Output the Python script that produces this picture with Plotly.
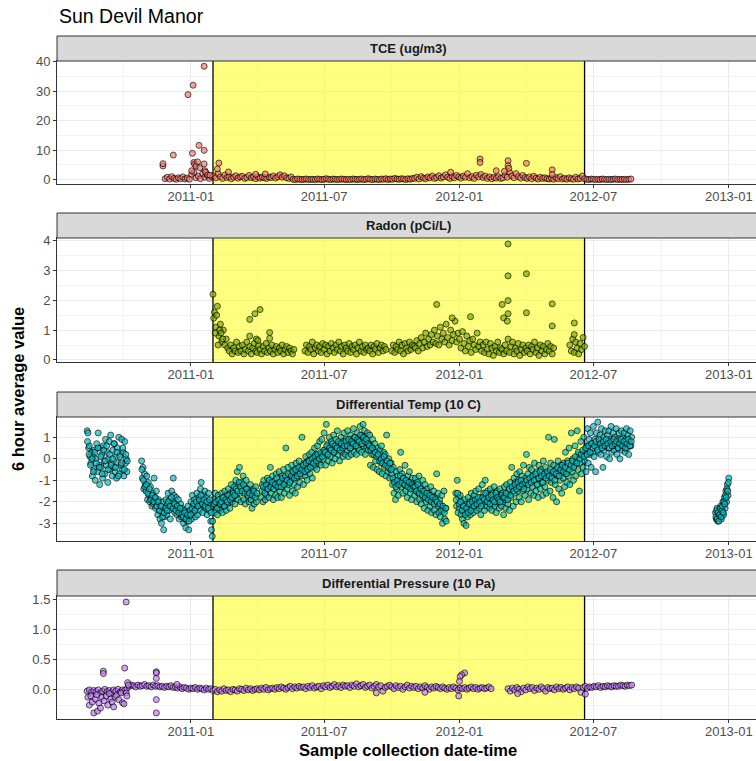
import pandas as pd
import plotly.graph_objects as go

chart_title = "Sun Devil Manor"
panel_names = ["TCE (ug/m3)", "Radon (pCi/L)", "Differential Temp (10 C)", "Differential Pressure (10 Pa)"]
panel_colors = ["#F8766D", "#7CAE00", "#00BFC4", "#C77CFF"]
mitigation_start = "2011-01-31"
mitigation_end = "2012-06-19"
x_title = "Sample collection date-time"
y_title = "6 hour average value"

# ---------------- TCE (3-day sampling from 2010-11-24) ----------------
tce_start = "2010-11-24"
tce_values = [4.6, 0.3, 0.8, 0.2, 1.0, 0.4, 0.1, 0.6, 0.3, 0.9, 0.2, 0.5, 0.1, 1.8, 2.5, 0.6, 1.2, 0.3, 2.0, 0.8, 1.5, 0.4, 1.0,
              1.2, 0.6, 2.0, 0.9, 0.4, 1.5, 0.7, 1.0, 0.3, 0.8, 1.3, 0.5, 0.9, 1.1, 0.4, 0.7, 1.4, 0.6, 0.9, 0.3, 1.0, 0.5, 0.8, 0.6, 0.4, 0.9, 0.7, 1.2, 0.5, 1.0, 1.6, 0.8, 1.3, 0.6, 0.4, 0.9,
              0.1, 0.0, 0.2, 0.1, 0.0, 0.1, 0.2, 0.0, 0.1, 0.1, 0.0, 0.2, 0.1, 0.0, 0.1, 0.3, 0.1, 0.0, 0.2, 0.1,
              0.0, 0.1, 0.2, 0.1, 0.0, 0.1, 0.0, 0.2, 0.1, 0.0, 0.1, 0.2, 0.0, 0.1, 0.3, 0.1, 0.0, 0.2, 0.1, 0.0,
              0.2, 0.1, 0.3, 0.0, 0.2, 0.1, 0.4, 0.2, 0.1, 0.3, 0.2, 0.0, 0.3, 0.1, 0.4,
              0.4, 0.8, 0.2, 1.0, 0.5, 0.3, 0.9, 0.6, 1.2, 0.4,
              0.7, 1.3, 0.5, 0.9, 1.6, 0.8, 0.4, 1.1, 0.6, 1.4, 0.9,
              0.5, 1.2, 0.8, 2.0, 0.6, 1.0, 0.4, 1.5, 0.9, 1.7,
              0.7, 1.2, 0.4, 0.9, 0.3, 0.8, 0.5, 1.0, 0.4, 0.6,
              1.5, 0.8, 2.5, 1.2, 0.6, 2.0, 1.0, 0.5, 1.4, 0.7,
              0.4, 0.9, 0.3, 1.1, 0.5, 0.2, 0.8, 0.4, 0.6, 0.3,
              0.2, 0.5, 0.1, 0.7, 0.3, 1.0, 0.2, 0.4, 0.1, 0.6,
              0.3, 0.1, 0.8, 0.2, 0.4, 1.2, 0.3,
              0.1, 0.0, 0.2, 0.1, 0.0, 0.1, 0.0, 0.2, 0.1, 0.0, 0.1, 0.0, 0.1, 0.2, 0.0, 0.1, 0.0, 0.1, 0.0, 0.1, 0.2]
tce_extra_dates = ["2010-11-24", "2010-12-08", "2010-12-28", "2011-01-04", "2011-01-19", "2011-01-12", "2011-01-19",
                   "2011-01-03", "2011-01-05", "2011-01-06", "2011-01-08", "2011-01-10", "2011-01-02", "2011-01-13",
                   "2011-01-19", "2011-01-20", "2011-01-21", "2011-01-24", "2011-01-27", "2011-02-06", "2011-02-08",
                   "2011-02-21", "2011-03-30", "2011-04-12", "2012-01-29", "2012-01-29", "2012-03-07", "2012-03-07",
                   "2012-03-08", "2012-02-20", "2012-04-01", "2012-05-06", "2012-05-06", "2011-12-20", "2012-03-02"]
tce_extra_values = [5.4, 8.3, 28.8, 32.0, 38.4, 11.6, 9.9, 8.9, 5.8, 5.2, 4.6, 6.0, 3.0, 4.0, 5.3, 3.0, 2.5, 1.6, 1.5,
                    3.6, 5.6, 2.6, 1.8, 1.9, 7.0, 5.8, 6.4, 4.7, 3.8, 3.0, 5.5, 3.3, 1.7, 2.5, 2.8]

# ---------------- Radon (2-day sampling, segments) ----------------
radon_a_start = "2011-01-31"
radon_a = [2.2, 1.6, 1.1, 1.8, 0.8, 1.2, 0.6, 1.0, 0.5, 0.7, 0.4, 0.3, 0.5, 0.2, 0.4,
           0.3, 0.6, 0.25, 0.45, 0.3, 0.5, 0.2, 0.35, 0.6, 0.3, 0.45, 0.2, 0.4, 0.55, 0.3,
           0.25, 0.5, 0.35, 0.2, 0.45, 0.3, 0.55, 0.25, 0.4, 0.3, 0.5, 0.2, 0.35, 0.45, 0.25,
           0.4, 0.3, 0.5, 0.2, 0.35, 0.45, 0.25, 0.4, 0.3, 0.2, 0.35]
radon_b_start = "2011-06-05"
radon_b = [0.3, 0.5, 0.25, 0.45, 0.35, 0.6, 0.2, 0.4, 0.5, 0.3, 0.45, 0.25, 0.55,
           0.35, 0.5, 0.2, 0.45, 0.3, 0.55, 0.4, 0.25, 0.5, 0.35, 0.6, 0.3, 0.45, 0.2, 0.5, 0.4,
           0.3, 0.55, 0.25, 0.45, 0.35, 0.5, 0.2, 0.4, 0.6, 0.3, 0.45, 0.25, 0.5, 0.35, 0.4,
           0.3, 0.5, 0.2, 0.45, 0.35, 0.55, 0.25, 0.4, 0.5, 0.3, 0.45, 0.35]
radon_c_start = "2011-10-01"
radon_c = [0.3, 0.5, 0.25, 0.45, 0.35, 0.6, 0.3, 0.5, 0.2, 0.55, 0.4, 0.3, 0.6, 0.35, 0.5, 0.45,
           0.4, 0.65, 0.3, 0.55, 0.75, 0.4, 0.6, 0.9, 0.45, 0.7, 0.5, 0.85, 0.6, 1.0, 0.55,
           0.8, 0.5, 1.1, 0.7, 0.9, 0.6, 1.2, 0.75, 0.5, 1.0, 0.65, 0.85, 1.3, 0.6, 0.9,
           0.7, 0.4, 0.95, 0.55, 0.3, 0.8, 0.45, 0.65, 0.25, 0.7, 0.5, 0.35, 0.9, 0.45, 0.6, 0.3,
           0.5, 0.25, 0.6, 0.35, 0.2, 0.55, 0.4, 0.15, 0.45, 0.3, 0.6, 0.25, 0.4, 0.35,
           0.2, 0.5, 0.3, 0.7, 0.25, 0.45, 0.6, 0.2, 0.4, 0.3, 0.55, 0.15, 0.35, 0.5, 0.25, 0.4,
           0.3, 0.5, 0.2, 0.45, 0.35, 0.6, 0.25, 0.4, 0.15, 0.5, 0.3, 0.45, 0.2, 0.35, 0.55,
           0.3, 0.45, 0.2, 0.4]
radon_d_start = "2012-05-30"
radon_d = [0.5, 0.3, 0.7, 0.25, 0.6, 0.4, 0.2, 0.55, 0.35, 0.75, 0.45]
radon_extra_dates = ["2011-02-01", "2011-02-03", "2011-02-05", "2011-02-07", "2011-02-09", "2011-02-11", "2011-02-13",
                     "2011-03-22", "2011-03-29", "2011-04-05", "2011-03-22", "2011-04-18", "2011-04-18", "2011-03-31",
                     "2011-04-02", "2011-12-01", "2011-12-22", "2012-01-16", "2012-02-28", "2012-03-07", "2012-03-07",
                     "2012-03-07", "2012-03-01", "2012-03-07", "2012-03-06", "2012-04-01", "2012-04-01", "2012-05-06",
                     "2012-05-06", "2012-06-05", "2012-06-05"]
radon_extra_values = [1.4, 0.9, 1.5, 0.5, 1.0, 0.9, 0.7, 1.36, 1.55, 1.69, 0.8, 0.92, 0.72, 0.7, 0.65,
                      1.86, 1.41, 1.45, 1.86, 3.89, 2.82, 1.99, 1.41, 1.55, 1.3, 2.89, 1.58, 1.88, 1.14, 1.24, 0.85]

# ---------------- Differential temperature (daily readings, segments) ----------------
temp_a_start = "2010-08-13"
temp_a = [1.3, 1.2, 0.5, 0.6, 0.1,
          -0.2, 0.3, -0.8, 0.1, -0.5, 0.4, -1.0, 0.0, 0.7, -0.6, 1.2, -0.3, -1.2, 0.5,
          -0.4, 0.2, -0.9, 0.6, -0.1, -0.7, 0.9, -0.3, 0.3, -1.1, 0.0, 0.8, -0.5, 1.1, -0.2,
          -0.8, 0.4, -0.4, 0.7, -0.6, 0.1, -0.9, 0.5, -0.2, 1.0, -0.7, 0.2, -0.3, 0.9, -0.5,
          0.3, -0.8, 0.8, -0.2, 0.0, -0.6]
temp_b_start = "2010-10-26"
temp_b = [-0.1, -0.9, -0.4, -1.4, -0.7, -1.2,
          -1.5, -0.8, -1.9, -1.1, -1.7, -2.0, -1.3, -1.8, -2.2, -1.6,
          -2.1, -0.9, -1.8, -2.3, -1.5, -2.0, -2.6, -1.9, -2.4, -2.8,
          -2.2, -3.0, -2.5, -2.0, -3.3, -2.7, -2.3, -1.9, -2.6, -2.1,
          -1.6, -2.4, -1.9, -2.8, -2.2, -1.5, -2.0, -0.9, -1.7, -2.5,
          -2.1, -1.8, -2.6, -2.3, -1.9, -2.8, -2.4, -2.1, -2.7, -2.3,
          -2.6, -3.0, -2.4, -2.8, -3.2, -2.5, -2.9, -2.2, -3.3, -2.7, -2.4,
          -2.0, -2.8, -1.7, -2.5, -2.2, -1.9, -2.7, -2.3, -1.6, -2.6,
          -2.1, -1.8, -2.4, -1.4, -1.1, -2.0, -2.5, -1.7, -2.2, -1.5,
          -2.3, -1.8, -2.6, -2.0, -1.6, -2.4, -2.1, -2.9, -3.3, -3.6, -2.2,
          -1.9, -2.5, -1.6, -2.2, -2.0, -2.6, -1.7, -2.3, -1.9, -2.4,
          -2.1, -1.6, -2.5, -1.8, -2.2, -1.5, -2.0, -2.4, -1.7, -2.1,
          -1.4, -1.9, -2.3, -1.6, -1.2, -2.0, -1.5, -1.8,
          -1.3, -2.1, -1.0, -1.7, -0.6, -1.9, -1.2, -0.4, -1.6, -2.0,
          -1.1, -1.5, -0.8, -1.9, -1.3, -2.1, -1.0, -1.6, -1.4, -1.8,
          -2.0, -1.5, -1.2, -1.9, -2.3, -1.6, -1.4, -2.1, -1.7, -1.3, -2.0]
temp_c_start = "2011-04-07"
temp_c = [-1.8, -1.2, -2.0, -1.0, -1.5, -1.9, -1.3, -1.7, -0.9, -1.4,
          -1.8, -1.1, -0.4, -1.6, -1.2, -0.8, -1.9, -1.4, -1.0, -1.7, -0.7, -1.3, -1.8, -1.1,
          -0.6, -1.5, -1.0, -1.8, -0.8, -1.3, -0.5, -1.6, -1.1, 0.5,
          -0.9, -1.4, -0.4, -1.2, -1.7, -0.7, -1.0, -0.3, -1.5, -0.8,
          -1.2, -0.5, -1.6, -0.2, -0.9, -1.3, -0.6, -0.1, -1.1, -0.4, -0.8,
          1.0, -0.5, -1.2, -0.2, -0.8, 0.1, -0.6, -1.0, -0.1, -0.4,
          0.2, -0.7, -0.2, 0.3, -0.9, 0.0, -0.4, 0.5, -0.3, 0.2,
          -0.5, 0.6, 0.0, -0.2, 0.8, 0.1, -0.3, 0.9, 0.3, 0.0,
          1.2, 0.4, -0.3, 1.6, 0.2, 0.7, -0.1, 1.0, 0.5, 0.1,
          0.8, -0.2, 0.6, 1.1, 0.3, 0.0, 0.9, 0.4, 1.3, 0.2,
          0.7, -0.1, 0.5, 1.0, 0.3, 0.8, 0.1, 1.2, 0.6, 0.2, 0.9,
          0.4, 1.3, 0.1, 0.8, 0.5, 1.1, 0.2, 0.9, 0.6, 1.4,
          0.3, 1.0, 0.7, 0.2, 1.2, 0.5, 0.9, 0.4, 1.5, 0.8,
          0.3, 1.1, 1.6, 0.6, 1.3, 0.2, 0.9, 0.5, 1.2, 0.4, 0.7,
          1.1, -0.3, 0.6, 0.2, 0.9, -0.4, 0.4, 0.7, -0.1, 0.3,
          -0.5, 0.5, 0.1, -0.6, 0.4, -0.2, 0.6, -0.7, 0.0, 0.3,
          -0.4, 0.2, -0.8, 1.1, -0.3, -0.6, 0.0, -0.9, -0.5, -0.2,
          -0.7, -1.2, -0.4, -1.6, -1.0, -1.9, -0.6, -1.4, -0.8, -1.7,
          -1.1, -0.5, 0.3, -1.3, -0.7, -1.6, -0.9, -1.2, -0.3, -1.5,
          -1.0, -1.8, -0.8, -1.3, -0.6, -1.6, -1.1, -1.9, -0.9, -1.4, -1.2,
          -1.7, -0.9, -1.4, -2.0, -1.1, -1.6, -0.8, -1.9, -1.3, -2.1,
          -1.5, -1.0, -1.8, -2.3, -1.2, -1.7, -2.0, -1.4, -2.4, -1.6,
          -1.9, -2.2, -1.3, -2.5, -1.7, -2.0, -1.5, -2.4, -1.8, -2.6,
          -0.7, -2.1, -1.6, -2.5, -1.9, -2.7, -2.2, -1.7, -3.0, -2.4, -1.5, -2.8, -2.3, -2.9]
temp_d_start = "2011-12-27"
temp_d = [-1.6, -2.2, -1.0, -2.5, -1.8,
          -2.3, -1.7, -2.6, -2.0, -2.8, -2.2, -3.0, -1.9, -2.5, -3.1,
          -2.1, -2.7, -1.8, -2.4, -2.0, -2.6, -1.6, -2.3, -1.9, -2.5,
          -1.7, -2.2, -1.5, -2.4, -1.9, -2.1, -1.4, -2.3, -1.8, -2.6, -2.0,
          -1.2, -2.1, -1.6, -2.4, -1.0, -1.9, -2.2, -1.5, -2.0, -1.7,
          -2.3, -1.4, -1.9, -2.4, -1.6, -2.1, -1.3, -2.2, -1.8, -2.5,
          -1.5, -2.0, -1.7, -2.3, -1.4, -1.9, -2.2, -1.6, -2.0,
          -2.6, -1.3, -1.9, -2.3, -1.2, -1.7, -2.1, -1.5, -2.4, -1.1,
          -1.8, -0.4, -1.4, -2.2, -0.9, -1.6, -1.1, -2.0, -0.7, -1.5,
          -1.0, -1.8, -0.6, -1.3, -2.0, -0.8, -1.5, -0.3, -1.2, -1.7, -0.9,
          0.2, -1.4, -0.7, -1.9, -0.4, -1.1, -1.6, -0.5, -1.3, -0.8,
          -1.7, -0.2, -1.0, -1.5, -0.6, -1.2, -1.8, -0.3, -0.9, -1.4,
          -0.5, -1.1, -1.7, -0.1, -0.8, -1.3, -0.4, -1.6, -0.7, -1.0,
          1.0, -0.6, -1.5, -0.2, -1.1, -0.7, -1.8, -0.3, 0.9, -1.2,
          -0.5, -2.0, -0.8, -0.1, -1.4, -0.6, -1.0, -0.3, -1.6, -0.4,
          -0.9, -0.2, -1.3, 0.3, -0.7, -1.1, -0.1, -0.8, 0.5, -1.2, -0.4,
          1.2, -0.6, 0.0, -1.0, -0.3, 0.6, -0.8, -0.1, 1.3, -0.5,
          0.2, -1.5, -0.2, 0.8, -0.7, 0.1, -0.4, 1.0, -0.1, 0.4,
          -0.6, 0.6, 1.4, -0.2, 0.9, 0.2, 1.2, -0.4, 0.7, 0.3,
          1.5, 0.1, 0.9, -0.6, 1.2, 0.5, 1.7, 0.3, 0.8, 1.1,
          0.2, 1.4, 0.6, -0.4, 1.0, 0.4, 1.3, 0.7, 0.1, 1.1,
          0.5, 1.3, 0.0, 0.9, 1.5, 0.3, 0.8, 1.2, 0.4, 1.0, 0.6,
          1.4, 0.2, 0.9, 0.5, 1.2, 0.0, 0.8, 1.3, 0.4, 1.0,
          0.6, 1.2, 0.3, 0.9, 1.4, 0.5, 1.1, 0.2, 0.8, 1.3, 0.6, 1.0]
temp_e_start = "2012-12-14"
temp_e = [-2.5, -2.8, -2.3, -2.9, -2.6, -2.4, -2.7, -2.2, -2.8, -2.5, -2.0, -2.6, -1.8, -2.3, -1.5, -2.0, -1.2, -1.7, -0.9]

# midday readings (every 2 days, offset by 12 h)
temp2_a_start = "2010-08-13 12:00"
temp2_a = [0.8, 0.2, -0.3, 0.0, -0.6, 0.3, -0.2, 0.5, -0.4, 0.1, -0.7, 0.4, -0.1, 0.6, -0.5, 0.2, -0.3, 0.0, 0.7, -0.4,
           0.3, -0.8, 0.1, -0.2, 0.5, -0.5, 0.2, -0.1]
temp2_b_start = "2010-10-26 12:00"
temp2_b = [-0.5, -1.0, -1.3,
           -1.2, -1.6, -1.4, -1.9, -1.7, -2.0, -1.8, -2.2, -2.0, -2.4, -2.2, -2.7, -2.5, -2.3, -2.4,
           -2.0, -2.2, -1.8, -2.3, -2.1, -2.4, -2.2, -2.5, -2.3, -2.6, -2.7, -2.5, -2.8, -2.6, -2.9, -2.6,
           -2.3, -2.1, -2.4, -2.0, -2.2, -1.9, -1.7, -2.1, -1.9, -2.2, -2.0, -2.3, -1.9, -2.5, -2.9,
           -2.1, -2.0, -2.3, -1.9, -2.1, -2.0, -1.8, -2.2, -1.9, -2.0, -1.7, -1.9, -1.8, -1.6,
           -1.7, -1.4, -1.5, -1.1, -1.3, -1.5, -1.2, -1.6, -1.4, -1.7, -1.6, -1.9, -1.7, -1.5, -1.8, -1.6]
temp2_c_start = "2011-04-07 12:00"
temp2_c = [-1.5, -1.3, -1.6, -1.2, -1.4, -1.0, -1.3, -1.1, -1.4, -1.2, -0.9, -1.3,
           -1.1, -1.3, -0.9, -1.2, -0.8, -1.0, -0.7, -1.1, -0.8, -0.6, -0.9, -0.5, -0.8, -0.4, -0.7, -0.5,
           -0.3, -0.6, -0.2, -0.5, -0.1, -0.4, 0.0, -0.2, 0.1, -0.1, 0.2, 0.0, 0.3, 0.1, 0.4,
           0.3, 0.6, 0.2, 0.5, 0.4, 0.7, 0.3, 0.6, 0.5, 0.8, 0.4, 0.7, 0.5, 0.6, 0.8,
           0.6, 0.9, 0.5, 0.8, 0.7, 1.0, 0.6, 0.9, 0.8, 1.1, 0.7, 1.0, 0.8, 0.9, 0.7, 0.6,
           0.4, 0.5, 0.2, 0.3, 0.1, 0.2, -0.1, 0.0, -0.2, 0.1, -0.3, -0.1, -0.4, -0.2, -0.5,
           -0.9, -1.1, -1.3, -1.0, -1.2, -0.8, -1.1, -0.9, -1.2, -1.0, -1.3, -1.1, -1.4, -1.2, -1.3,
           -1.3, -1.5, -1.2, -1.6, -1.4, -1.7, -1.5, -1.8, -1.6, -1.9, -1.7, -2.0, -1.8, -2.1, -1.9,
           -2.0, -2.2, -2.1, -2.4, -2.2, -2.5, -2.3]
temp2_d_start = "2011-12-27 12:00"
temp2_d = [-1.9, -1.6, -2.1,
           -2.0, -2.4, -2.2, -2.6, -2.3, -2.5, -2.1, -2.4, -2.0, -2.2, -1.9, -2.1, -1.8, -2.0, -2.2,
           -1.8, -1.9, -1.6, -2.0, -1.8, -2.1, -1.7, -1.9, -2.0, -1.6, -1.8, -1.9, -2.0, -1.7, -1.8,
           -1.8, -1.6, -1.9, -1.4, -1.7, -1.3, -1.5, -1.2, -1.4, -1.1, -1.3, -1.0, -1.2, -1.4, -1.1,
           -1.0, -1.2, -0.9, -1.1, -0.8, -1.0, -0.7, -1.2, -0.9, -0.6, -0.8, -1.1, -0.7, -0.9, -0.6,
           -0.8, -0.5, -0.9, -0.6, -1.0, -0.7, -0.4, -0.8, -0.5, -0.3, -0.6, -0.4, -0.7, -0.2, -0.5, -0.3,
           -0.1, -0.4, 0.1, -0.2, 0.3, 0.0, 0.2, 0.4, 0.1, 0.5, 0.2, 0.6, 0.3, 0.7, 0.5,
           0.6, 0.8, 0.4, 0.9, 0.7, 0.5, 0.8, 0.6, 0.9, 0.7, 0.5, 0.8, 0.6, 0.9, 0.7,
           0.8, 0.5, 0.7, 0.9, 0.6, 0.8, 0.5, 0.7, 0.9, 0.6, 0.8]
temp2_e_start = "2012-12-14 12:00"
temp2_e = [-2.7, -2.4, -2.8, -2.5, -2.9, -2.6, -2.3, -2.7, -2.4, -2.2, -2.5, -2.0, -2.1, -1.7, -1.8, -1.4, -1.5, -1.1]

# ---------------- Differential pressure (3-day sampling, segments) ----------------
pres_a_start = "2010-08-13"
pres_a = [-0.02, 0.0, -0.04, -0.01, -0.03, 0.0, -0.05, -0.02, 0.01, -0.03, -0.01, -0.04, 0.0, -0.02, 0.01, -0.03, 0.0, -0.01, 0.02,
          0.06, 0.08, 0.07, 0.05, 0.08, 0.06, 0.07, 0.09, 0.06, 0.07, 0.05, 0.08, 0.06, 0.07, 0.05, 0.06, 0.04, 0.06, 0.05,
          0.07, 0.04, 0.05, 0.03, 0.05, 0.02, 0.04, 0.03, 0.01, 0.03, 0.02, 0.04, 0.01, 0.03, 0.02, 0.0, 0.03, 0.01, 0.02,
          -0.01, 0.01, -0.03, 0.0, -0.02, 0.02, -0.01, 0.0, -0.03, 0.01,
          0.0, -0.02, 0.02, 0.01, -0.01, 0.03, 0.0, 0.02, -0.01, 0.01,
          0.02, 0.0, 0.03, 0.01, 0.04, 0.0, 0.02, 0.03, 0.01, 0.04,
          0.02, 0.05, 0.03, 0.01, 0.04, 0.06, 0.02, 0.05, 0.03, 0.06, 0.04,
          0.05, 0.02, 0.06, 0.04, 0.07, 0.03, 0.05, 0.06, 0.02, 0.07,
          0.05, 0.08, 0.04, 0.06, 0.09, 0.05, 0.07, 0.04, 0.08, 0.06,
          0.07, 0.04, 0.08, 0.06, 0.1, 0.05, 0.07, 0.09, 0.04, 0.06,
          0.08, 0.03, 0.06, 0.09, 0.05, 0.07, -0.02, 0.04, 0.06, 0.08,
          0.05, 0.02, 0.07, 0.04, 0.06, 0.01, 0.05, 0.08, 0.03, 0.06, 0.04,
          0.06, 0.02, 0.05, 0.03, 0.07, 0.04, 0.01, 0.05, 0.03, 0.06,
          0.04, 0.02, 0.05, 0.03, 0.01, 0.04, 0.02, 0.05, 0.03, 0.0,
          0.03, 0.02, 0.04, 0.01, 0.03, 0.05, 0.02, 0.04, 0.01, 0.03,
          0.04, 0.02, 0.03, 0.05, 0.02]
pres_b_start = "2012-03-07"
pres_b = [0.02, -0.02, 0.03, 0.0, 0.04, 0.01, -0.03, 0.03, 0.0, 0.05,
          0.02, 0.04, -0.01, 0.03, 0.01, 0.05, 0.02, -0.02, 0.04, 0.02,
          0.03, 0.0, 0.05, 0.02, 0.04, 0.01, 0.03, 0.05, 0.0, 0.04,
          0.02, 0.05, 0.03, -0.04, 0.04, 0.06, 0.03, 0.05, 0.04, 0.06,
          0.05, 0.07, 0.04, 0.06, 0.05, 0.07, 0.06, 0.05, 0.07, 0.06,
          0.06, 0.08, 0.07, 0.06, 0.08, 0.07, 0.08]
pres_extra_dates = ["2010-08-14", "2010-08-16", "2010-08-18", "2010-08-20", "2010-08-22", "2010-08-24", "2010-08-26",
                    "2010-08-27", "2010-08-29", "2010-08-31", "2010-09-02", "2010-09-04", "2010-09-04", "2010-09-05",
                    "2010-09-08", "2010-09-10", "2010-09-12", "2010-09-14", "2010-09-16", "2010-09-18", "2010-09-20",
                    "2010-09-22", "2010-09-25", "2010-09-28", "2010-09-30", "2010-10-02", "2010-10-03", "2010-10-05",
                    "2010-10-05", "2010-10-06", "2010-10-07", "2010-10-08", "2010-11-15", "2010-11-15", "2010-11-15",
                    "2010-11-15", "2010-11-15", "2010-12-13", "2012-01-08", "2012-01-04", "2012-01-02", "2012-01-01",
                    "2011-12-31", "2011-09-10", "2011-11-15", "2012-03-20", "2012-06-20"]
pres_extra_values = [-0.12, -0.25, -0.1, -0.2, -0.38, -0.15, -0.08, -0.35, -0.22, -0.3, -0.12, 0.31, 0.27, -0.18,
                     -0.1, -0.25, -0.06, -0.15, -0.2, -0.28, -0.12, -0.09, -0.16, -0.05, -0.21, -0.23, 0.36, 1.45,
                     -0.05, -0.1, 0.12, 0.08, 0.3, 0.28, 0.19, -0.16, -0.38, 0.09, 0.28, 0.25, 0.22, 0.14,
                     -0.1, -0.05, -0.04, -0.06, -0.07]

# axis settings (values)
x_range = ["2010-07-03", "2013-02-07"]
y_ranges = [[-1.5, 40.2], [-0.07, 4.09], [-3.82, 1.94], [-0.48, 1.55]]
y_tickvals = [[0, 10, 20, 30, 40], [0, 1, 2, 3, 4], [-3, -2, -1, 0, 1], [0.0, 0.5, 1.0, 1.5]]
y_ticktext = [["0", "10", "20", "30", "40"], ["0", "1", "2", "3", "4"], ["-3", "-2", "-1", "0", "1"],
              ["0.0", "0.5", "1.0", "1.5"]]
y_minorvals = [[5, 15, 25, 35], [0.5, 1.5, 2.5, 3.5], [-3.5, -2.5, -1.5, -0.5, 0.5, 1.5], [-0.25, 0.25, 0.75, 1.25]]


def seg(start, step, vals):
    return list(pd.date_range(start, periods=len(vals), freq=f"{step}D")), list(vals)


def combine(*parts):
    xs, ys = [], []
    for x, y in parts:
        xs += list(pd.to_datetime(x))
        ys += list(y)
    return xs, ys


panels = [
    combine(seg(tce_start, 3, tce_values), (tce_extra_dates, tce_extra_values)),
    combine(seg(radon_a_start, 2, radon_a), seg(radon_b_start, 2, radon_b), seg(radon_c_start, 2, radon_c),
            seg(radon_d_start, 2, radon_d), (radon_extra_dates, radon_extra_values)),
    combine(seg(temp_a_start, 1, temp_a), seg(temp_b_start, 1, temp_b), seg(temp_c_start, 1, temp_c),
            seg(temp_d_start, 1, temp_d), seg(temp_e_start, 1, temp_e),
            seg(temp2_a_start, 2, temp2_a), seg(temp2_b_start, 2, temp2_b), seg(temp2_c_start, 2, temp2_c),
            seg(temp2_d_start, 2, temp2_d), seg(temp2_e_start, 1, temp2_e)),
    combine(seg(pres_a_start, 3, pres_a), seg(pres_b_start, 3, pres_b), (pres_extra_dates, pres_extra_values)),
]

W, H = 756, 761
plot_left = 57
plot_tops = [61, 238, 417, 596]
plot_bottoms = [184, 362, 541, 719]
strip_tops = [36, 213, 392, 570]
FONT = "Liberation Sans, Arial, Helvetica, sans-serif"

fig = go.Figure()
shapes = []
annotations = []
layout = dict(width=W, height=H, margin=dict(l=0, r=0, t=0, b=0, autoexpand=False), plot_bgcolor="white",
              paper_bgcolor="white", showlegend=False, font=dict(family=FONT), template="none")

for i in range(4):
    n = i + 1
    xa = "x" if n == 1 else f"x{n}"
    ya = "y" if n == 1 else f"y{n}"
    lo, hi = y_ranges[i]
    # mitigation period highlight (drawn as first layer of the panel, over the grid)
    fig.add_trace(go.Scatter(x=[mitigation_start, mitigation_end, mitigation_end, mitigation_start, mitigation_start],
                             y=[lo, lo, hi, hi, lo], mode="lines", fill="toself",
                             fillcolor="rgba(255,255,0,0.5)", line=dict(width=0), xaxis=xa, yaxis=ya,
                             hoverinfo="skip"))
    fig.add_trace(go.Scatter(x=[mitigation_start, mitigation_start, None, mitigation_end, mitigation_end],
                             y=[lo, hi, None, lo, hi], mode="lines", line=dict(color="black", width=1.3),
                             xaxis=xa, yaxis=ya, hoverinfo="skip", cliponaxis=True))
    xs, ys = panels[i]
    fig.add_trace(go.Scatter(x=xs, y=ys, mode="markers", xaxis=xa, yaxis=ya,
                             marker=dict(size=6, color=panel_colors[i], opacity=0.7,
                                         line=dict(color="black", width=1)),
                             hoverinfo="skip"))
    ydom = [1 - plot_bottoms[i] / H, 1 - plot_tops[i] / H]
    layout["xaxis" if n == 1 else f"xaxis{n}"] = dict(
        domain=[plot_left / W, 1], range=x_range, type="date", anchor=ya, automargin=False,
        tickformat="%Y-%m", tick0="2011-01-01", dtick="M6", ticks="outside", ticklen=3, tickwidth=1,
        tickcolor="#333333", tickfont=dict(size=13, color="#4D4D4D", family=FONT), ticklabelstandoff=-3,
        showgrid=True, gridcolor="#EBEBEB", gridwidth=1.1,
        minor=dict(tick0="2010-10-01", dtick="M3", showgrid=True, gridcolor="#F4F4F4", gridwidth=0.6),
        showline=True, mirror=True, linecolor="#333333", linewidth=1, zeroline=False)
    layout["yaxis" if n == 1 else f"yaxis{n}"] = dict(
        domain=ydom, range=y_ranges[i], anchor=xa, automargin=False,
        tickmode="array", tickvals=y_tickvals[i], ticktext=y_ticktext[i],
        ticks="outside", ticklen=3, tickwidth=1, tickcolor="#333333",
        tickfont=dict(size=13, color="#4D4D4D", family=FONT),
        showgrid=True, gridcolor="#EBEBEB", gridwidth=1.1,
        minor=dict(tickmode="array", tickvals=y_minorvals[i], showgrid=True, gridcolor="#F4F4F4", gridwidth=0.6),
        showline=True, mirror=False, linecolor="#333333", linewidth=1, zeroline=False)
    # strip
    shapes.append(dict(type="rect", xref="paper", yref="paper", x0=plot_left / W, x1=1.05,
                       y0=1 - plot_tops[i] / H, y1=1 - strip_tops[i] / H,
                       fillcolor="#D9D9D9", line=dict(color="#333333", width=1), layer="above"))
    annotations.append(dict(text=f"<b>{panel_names[i]}</b>", xref="paper", yref="paper",
                            x=(plot_left + 760) / 2 / W, y=1 - (strip_tops[i] + plot_tops[i]) / 2 / H,
                            xanchor="center", yanchor="middle", showarrow=False,
                            font=dict(size=13, color="#1A1A1A", family=FONT)))

annotations.append(dict(text=chart_title, xref="paper", yref="paper", x=plot_left / W, y=1 - 16 / H,
                        xanchor="left", yanchor="middle", showarrow=False,
                        font=dict(size=19.5, color="black", family=FONT)))
annotations.append(dict(text=f"<b>{x_title}</b>", xref="paper", yref="paper", x=408 / W, y=1 - 750 / H,
                        xanchor="center", yanchor="middle", showarrow=False,
                        font=dict(size=16.5, color="black", family=FONT)))
annotations.append(dict(text=f"<b>{y_title}</b>", xref="paper", yref="paper", x=18 / W, y=1 - 389 / H,
                        xanchor="center", yanchor="middle", showarrow=False, textangle=-90,
                        font=dict(size=16.5, color="black", family=FONT)))

layout["shapes"] = shapes
layout["annotations"] = annotations
fig.update_layout(**layout)
fig.write_html("out.html")
